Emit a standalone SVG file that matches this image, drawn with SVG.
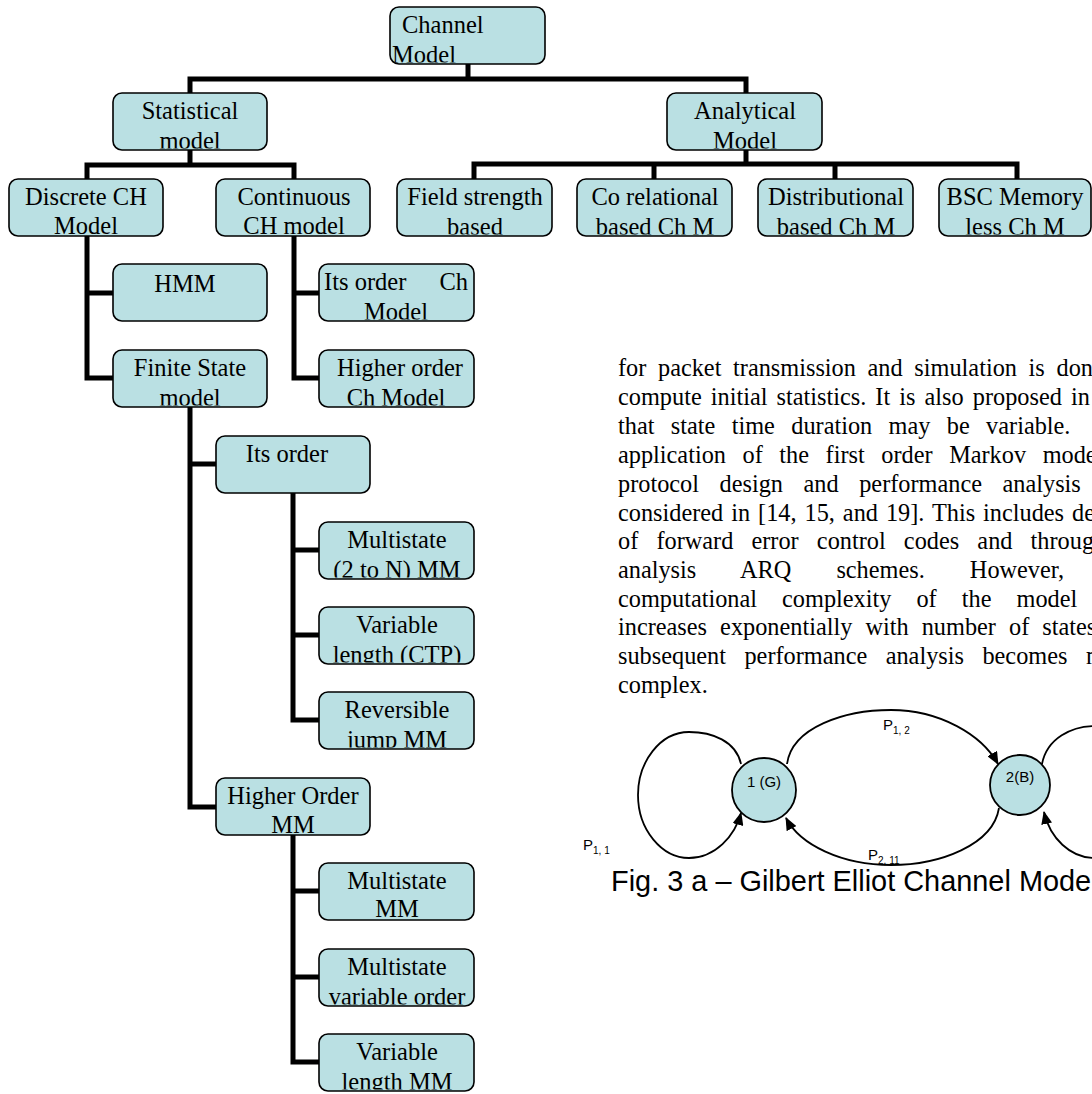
<svg xmlns="http://www.w3.org/2000/svg" width="1092" height="1094" viewBox="0 0 1092 1094">
<style>
.box{fill:#bae0e3;stroke:#000;stroke-width:1.6}
.t{font-family:"Liberation Serif","Times New Roman",serif;font-size:24.5px;fill:#000;text-anchor:middle}
.ts{font-family:"Liberation Serif","Times New Roman",serif;font-size:24.5px;fill:#000}
.con{fill:none;stroke:#000;stroke-width:5;stroke-linejoin:miter;stroke-linecap:butt}
.p{font-family:"Liberation Serif","Times New Roman",serif;font-size:24.3px;fill:#000}
.st{fill:#bae0e3;stroke:#000;stroke-width:1.8}
.arc{fill:none;stroke:#000;stroke-width:1.8}
.s{font-family:"Liberation Sans",Arial,sans-serif;font-size:15px;fill:#000}
.sub{font-size:10px}
.cap{font-family:"Liberation Sans",Arial,sans-serif;font-size:28.9px;fill:#000}
</style>
<defs>
<marker id="ah" viewBox="0 0 13 11" refX="12" refY="5.5" markerWidth="13" markerHeight="11" markerUnits="userSpaceOnUse" orient="auto">
<path d="M0,0 L13,5.5 L0,11 z" fill="#000"/>
</marker>
</defs>
<rect width="1092" height="1094" fill="#fff"/>

<g id="connectors">
<path class="con" d="M468,64 V79 M190,93 V79 H746 V93"/>
<path class="con" d="M190,150 V165 M87,179 V165 H294 V179"/>
<path class="con" d="M746,150 V164 M474,179 V164 H1017 V179 M654,164 V179 M835,164 V179"/>
<path class="con" d="M87,236 V378 H113 M87,293 H113"/>
<path class="con" d="M294,236 V378 H319 M294,293 H319"/>
<path class="con" d="M190,407 V807 H216 M190,464 H216"/>
<path class="con" d="M293,493 V720 H319 M293,550 H319 M293,635 H319"/>
<path class="con" d="M293,835 V1062 H319 M293,891 H319 M293,977 H319"/>
</g>

<g id="n-channel"><rect class="box" x="390" y="7" width="155" height="57" rx="9"/>
<svg x="390" y="7" width="155" height="55.5"><text class="ts" x="12" y="26">Channel</text><text class="ts" x="2" y="56">Model</text></svg></g>

<g id="n-statistical"><rect class="box" x="113" y="93" width="154" height="57" rx="9"/>
<svg x="113" y="93" width="154" height="55.5"><text class="t" x="77" y="26">Statistical</text><text class="t" x="77" y="56">model</text></svg></g>

<g id="n-analytical"><rect class="box" x="667" y="93" width="155" height="57" rx="9"/>
<svg x="667" y="93" width="155" height="55.5"><text class="t" x="78" y="26">Analytical</text><text class="t" x="78" y="56">Model</text></svg></g>

<g id="n-discrete"><rect class="box" x="9" y="179" width="154" height="57" rx="9"/>
<svg x="9" y="179" width="154" height="55.5"><text class="t" x="77" y="26">Discrete CH</text><text class="t" x="77" y="55">Model</text></svg></g>

<g id="n-continuous"><rect class="box" x="216" y="179" width="154" height="57" rx="9"/>
<svg x="216" y="179" width="154" height="55.5"><text class="t" x="78" y="26">Continuous</text><text class="t" x="78" y="55">CH model</text></svg></g>

<g id="n-field"><rect class="box" x="397" y="179" width="155" height="57" rx="9"/>
<svg x="397" y="179" width="155" height="55.5"><text class="t" x="78" y="26">Field strength</text><text class="t" x="78" y="56">based</text></svg></g>

<g id="n-corel"><rect class="box" x="577" y="179" width="155" height="57" rx="9"/>
<svg x="577" y="179" width="155" height="55.5"><text class="t" x="78" y="26">Co relational</text><text class="t" x="78" y="56">based Ch M</text></svg></g>

<g id="n-distrib"><rect class="box" x="758" y="179" width="155" height="57" rx="9"/>
<svg x="758" y="179" width="155" height="55.5"><text class="t" x="78" y="26">Distributional</text><text class="t" x="78" y="56">based Ch M</text></svg></g>

<g id="n-bsc"><rect class="box" x="939" y="179" width="152" height="57" rx="9"/>
<svg x="939" y="179" width="152" height="55.5"><text class="t" x="76" y="26">BSC Memory</text><text class="t" x="76" y="56">less Ch M</text></svg></g>

<g id="n-hmm"><rect class="box" x="113" y="264" width="154" height="57" rx="9"/>
<svg x="113" y="264" width="154" height="55.5"><text class="t" x="72" y="28">HMM</text></svg></g>

<g id="n-finite"><rect class="box" x="113" y="350" width="154" height="57" rx="9"/>
<svg x="113" y="350" width="154" height="55.5"><text class="t" x="77" y="26">Finite State</text><text class="t" x="77" y="56">model</text></svg></g>

<g id="n-itsorder-ch"><rect class="box" x="319" y="264" width="155" height="57" rx="9"/>
<svg x="319" y="264" width="155" height="55.5"><text class="ts" y="26"><tspan x="5">Its order</tspan><tspan x="149" text-anchor="end">Ch</tspan></text><text class="t" x="77" y="56">Model</text></svg></g>

<g id="n-higher-ch"><rect class="box" x="319" y="350" width="155" height="57" rx="9"/>
<svg x="319" y="350" width="155" height="55.5"><text class="t" x="81" y="26">Higher order</text><text class="t" x="77" y="56">Ch Model</text></svg></g>

<g id="n-itsorder"><rect class="box" x="216" y="436" width="154" height="57" rx="9"/>
<svg x="216" y="436" width="154" height="55.5"><text class="t" x="71" y="26">Its order</text></svg></g>

<g id="n-multistate-2n"><rect class="box" x="319" y="522" width="155" height="57" rx="9"/>
<svg x="319" y="522" width="155" height="55.5"><text class="t" x="78" y="26">Multistate</text><text class="t" x="78" y="56">(2 to N) MM</text></svg></g>

<g id="n-variable-ctp"><rect class="box" x="319" y="607" width="155" height="57" rx="9"/>
<svg x="319" y="607" width="155" height="55.5"><text class="t" x="78" y="26">Variable</text><text class="t" x="78" y="56">length (CTP)</text></svg></g>

<g id="n-reversible"><rect class="box" x="319" y="692" width="155" height="57" rx="9"/>
<svg x="319" y="692" width="155" height="55.5"><text class="t" x="78" y="26">Reversible</text><text class="t" x="78" y="56">jump MM</text></svg></g>

<g id="n-higher-mm"><rect class="box" x="216" y="778" width="154" height="57" rx="9"/>
<svg x="216" y="778" width="154" height="55.5"><text class="t" x="77" y="26">Higher Order</text><text class="t" x="77" y="55">MM</text></svg></g>

<g id="n-multistate-mm"><rect class="box" x="319" y="863" width="155" height="57" rx="9"/>
<svg x="319" y="863" width="155" height="55.5"><text class="t" x="78" y="26">Multistate</text><text class="t" x="78" y="54">MM</text></svg></g>

<g id="n-multistate-var"><rect class="box" x="319" y="949" width="155" height="57" rx="9"/>
<svg x="319" y="949" width="155" height="55.5"><text class="t" x="78" y="26">Multistate</text><text class="t" x="78" y="56">variable order</text></svg></g>

<g id="n-variable-mm"><rect class="box" x="319" y="1034" width="155" height="57" rx="9"/>
<svg x="319" y="1034" width="155" height="55.5"><text class="t" x="78" y="26">Variable</text><text class="t" x="78" y="56">length MM</text></svg></g>

<g id="paragraph">
<text class="p" x="618" y="376" word-spacing="5.6">for packet transmission and simulation is done</text>
<text class="p" x="618" y="405" word-spacing="3">compute initial statistics. It is also proposed in</text>
<text class="p" x="618" y="434" word-spacing="10.3">that state time duration may be variable.</text>
<text class="p" x="618" y="463" word-spacing="10.5">application of the first order Markov model</text>
<text class="p" x="618" y="492" word-spacing="14.5">protocol design and performance analysis</text>
<text class="p" x="618" y="521" word-spacing="1.9">considered in [14, 15, and 19]. This includes design</text>
<text class="p" x="618" y="549" word-spacing="12.1">of forward error control codes and throughput</text>
<text class="p" x="618" y="578" word-spacing="39">analysis ARQ schemes. However,</text>
<text class="p" x="618" y="607" word-spacing="19">computational complexity of the model</text>
<text class="p" x="618" y="635" word-spacing="7">increases exponentially with number of states</text>
<text class="p" x="618" y="664" word-spacing="12.4">subsequent performance analysis becomes more</text>
<text class="p" x="618" y="693">complex.</text>
</g>

<g id="ge-connectors">
<path class="arc" marker-end="url(#ah)" d="M741,764 C736,741 712,732 689,732 C660,732 638,762 638,795 C638,830 662,858 689,858 C715,858 735,836 741,813"/>
<path class="arc" marker-end="url(#ah)" d="M787,764 C792,727 845,710 891,710 C940,710 982,735 998,764"/>
<path class="arc" marker-end="url(#ah)" d="M999,808 C993,845 940,865 891,865 C842,865 800,845 786,818"/>
<path class="arc" marker-end="url(#ah)" d="M1042,764 C1047,738 1072,726 1095,726 C1124,726 1146,756 1146,790 C1146,826 1122,858 1095,858 C1070,858 1050,838 1044,812"/>
</g>
<g id="state-1"><circle class="st" cx="764" cy="790" r="32"/><text class="s" x="764" y="787" text-anchor="middle">1 (G)</text></g>
<g id="state-2"><circle class="st" cx="1020" cy="785" r="30"/><text class="s" x="1020" y="782" text-anchor="middle">2(B)</text></g>
<g id="labels">
<text class="s" x="583" y="850">P<tspan class="sub" dy="4">1, 1</tspan></text>
<text class="s" x="883" y="730">P<tspan class="sub" dy="4">1, 2</tspan></text>
<text class="s" x="868" y="860">P<tspan class="sub" dy="4">2, 11</tspan></text>
</g>
<text class="cap" x="611" y="891">Fig. 3 a – Gilbert Elliot Channel Model</text>
</svg>
